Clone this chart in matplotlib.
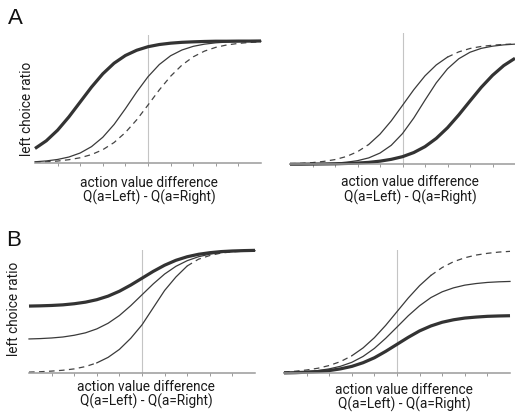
import matplotlib
matplotlib.use("Agg")
import matplotlib.pyplot as plt
import numpy as np

# x grid (action value difference, arbitrary units)
x_vals = [-5, -4.5, -4, -3.5, -3, -2.5, -2, -1.5, -1, -0.5, 0,
          0.5, 1, 1.5, 2, 2.5, 3, 3.5, 4, 4.5, 5]

# Panel A left
a_left_thick = [0.119, 0.182, 0.269, 0.378, 0.500, 0.622, 0.731, 0.818, 0.881, 0.924, 0.953,
                0.971, 0.982, 0.989, 0.993, 0.996, 0.998, 0.998, 0.999, 0.999, 1.000]
a_left_thin = [0.010, 0.017, 0.029, 0.049, 0.082, 0.134, 0.211, 0.316, 0.445, 0.582, 0.707,
               0.807, 0.879, 0.926, 0.956, 0.974, 0.985, 0.991, 0.995, 0.997, 0.998]
a_left_dash = [0.006, 0.010, 0.016, 0.027, 0.043, 0.069, 0.109, 0.168, 0.250, 0.354, 0.475,
               0.599, 0.711, 0.802, 0.870, 0.917, 0.948, 0.968, 0.980, 0.988, 0.993]

# Panel A right
a_right_dash = [0.005, 0.008, 0.014, 0.024, 0.039, 0.064, 0.104, 0.164, 0.249, 0.359, 0.487,
                0.616, 0.731, 0.821, 0.886, 0.929, 0.957, 0.974, 0.984, 0.991, 0.994]
a_right_thin = [0.001, 0.002, 0.003, 0.005, 0.009, 0.017, 0.030, 0.053, 0.093, 0.157, 0.254,
                0.382, 0.530, 0.673, 0.789, 0.872, 0.926, 0.958, 0.976, 0.987, 0.993]
a_right_thick = [0.001, 0.001, 0.002, 0.003, 0.004, 0.007, 0.010, 0.016, 0.026, 0.041, 0.063,
                 0.097, 0.146, 0.214, 0.302, 0.408, 0.523, 0.636, 0.735, 0.816, 0.876]

# Panel B left
b_left_thick = [0.543, 0.545, 0.548, 0.553, 0.562, 0.575, 0.595, 0.624, 0.664, 0.714, 0.770,
                0.826, 0.876, 0.916, 0.945, 0.965, 0.978, 0.987, 0.992, 0.995, 0.997]
b_left_thin = [0.275, 0.278, 0.283, 0.291, 0.305, 0.325, 0.357, 0.403, 0.466, 0.546, 0.635,
               0.724, 0.804, 0.867, 0.913, 0.945, 0.966, 0.979, 0.987, 0.992, 0.995]
b_left_dash = [0.005, 0.008, 0.013, 0.020, 0.031, 0.050, 0.080, 0.125, 0.190, 0.280, 0.390,
               0.530, 0.670, 0.780, 0.870, 0.925, 0.955, 0.975, 0.985, 0.990, 0.995]

# Panel B right
b_right_dash = [0.011, 0.017, 0.027, 0.041, 0.063, 0.095, 0.142, 0.206, 0.289, 0.389, 0.500,
                0.611, 0.711, 0.794, 0.858, 0.905, 0.937, 0.959, 0.973, 0.983, 0.989]
b_right_mid = [0.005, 0.008, 0.014, 0.022, 0.036, 0.057, 0.089, 0.137, 0.202, 0.284, 0.375,
               0.467, 0.548, 0.614, 0.661, 0.693, 0.715, 0.728, 0.737, 0.742, 0.745]
b_right_thick = [0.003, 0.005, 0.009, 0.014, 0.022, 0.036, 0.056, 0.086, 0.126, 0.178, 0.235,
                 0.292, 0.344, 0.384, 0.414, 0.434, 0.448, 0.456, 0.462, 0.465, 0.467]

tick_positions = [-4, -3, -2, -1, 0, 1, 2, 3, 4]

W, H = 515, 413
fig = plt.figure(figsize=(W / 100, H / 100), dpi=100)

LABEL_FONT = ["Roboto", "DejaVu Sans"]
THICK = dict(color="#333333", lw=2.3, solid_capstyle="butt")
THIN = dict(color="#3a3a3a", lw=0.9)
DASH = dict(color="#444444", lw=0.9, dashes=(4.5, 3.5))


def px_axes(left, top, right, bottom):
    return fig.add_axes([left / W, 1 - bottom / H, (right - left) / W, (bottom - top) / H])


def style(ax, ytop):
    ax.set_xlim(-5, 5)
    ax.set_ylim(0, ytop)
    for s in ["top", "right", "left"]:
        ax.spines[s].set_visible(False)
    ax.spines["bottom"].set_color("#9a9a9a")
    ax.spines["bottom"].set_linewidth(1.1)
    ax.set_xticks(tick_positions)
    ax.set_xticklabels([])
    ax.tick_params(axis="x", direction="out", length=2, width=0.7, colors="#9a9a9a")
    ax.set_yticks([])
    ax.axvline(0, color="#c4c4c4", lw=0.8, zorder=0)
    ax.patch.set_alpha(0)


def segments(ax, xs, ys, lo, hi, dash_kw, solid_kw):
    xs = np.asarray(xs, float)
    ys = np.asarray(ys, float)
    m_lo = xs <= lo
    m_hi = xs >= hi
    m_mid = (xs >= lo) & (xs <= hi)
    ax.plot(xs[m_lo], ys[m_lo], clip_on=False, **dash_kw)
    ax.plot(xs[m_mid], ys[m_mid], clip_on=False, **solid_kw)
    ax.plot(xs[m_hi], ys[m_hi], clip_on=False, **dash_kw)


# A left
ax1 = px_axes(35, 35, 261, 163)
style(ax1, 1.049)
ax1.plot(x_vals, a_left_dash, clip_on=False, **DASH)
ax1.plot(x_vals, a_left_thin, clip_on=False, **THIN)
ax1.plot(x_vals, a_left_thick, clip_on=False, **THICK)

# A right
ax2 = px_axes(290, 33, 515, 164.3)
style(ax2, 1.085)
segments(ax2, x_vals, a_right_dash, -1.5, 2.0, DASH, THIN)
ax2.plot(x_vals, a_right_thin, clip_on=False, **THIN)
ax2.plot(x_vals, a_right_thick, clip_on=False, **THICK)

# B left
ax3 = px_axes(29, 250, 255, 372.7)
style(ax3, 1.0)
segments(ax3, x_vals, b_left_dash, -2.0, 2.0, DASH, THIN)
ax3.plot(x_vals, b_left_thin, clip_on=False, **THIN)
ax3.plot(x_vals, b_left_thick, clip_on=False, **THICK)

# B right
ax4 = px_axes(284, 250, 510, 373.3)
style(ax4, 1.0)
segments(ax4, x_vals, b_right_dash, -2.0, 1.5, DASH, THIN)
ax4.plot(x_vals, b_right_mid, clip_on=False, **THIN)
ax4.plot(x_vals, b_right_thick, clip_on=False, **THICK)


def ftext(x, y, s, **kw):
    fig.text(x / W, 1 - y / H, s, **kw)


lab = dict(ha="center", va="center", fontsize=9.8, family=LABEL_FONT, color="#1a1a1a")
for cx, y1, y2 in [(149, 183, 197), (410, 182, 197), (146, 387, 401), (404, 390, 404)]:
    ftext(cx, y1, "action value difference", **lab)
    ftext(cx, y2, "Q(a=Left) - Q(a=Right)", **lab)

ftext(27, 109, "left choice ratio", rotation=90, **lab)
ftext(14, 309, "left choice ratio", rotation=90, **lab)

ftext(15, 18, "A", ha="center", va="center", fontsize=16, family=["Liberation Sans"], color="#111111")
ftext(14, 241, "B", ha="center", va="center", fontsize=16, family=["Liberation Sans"], color="#111111")

fig.savefig("out.png", dpi=100, facecolor="white")
